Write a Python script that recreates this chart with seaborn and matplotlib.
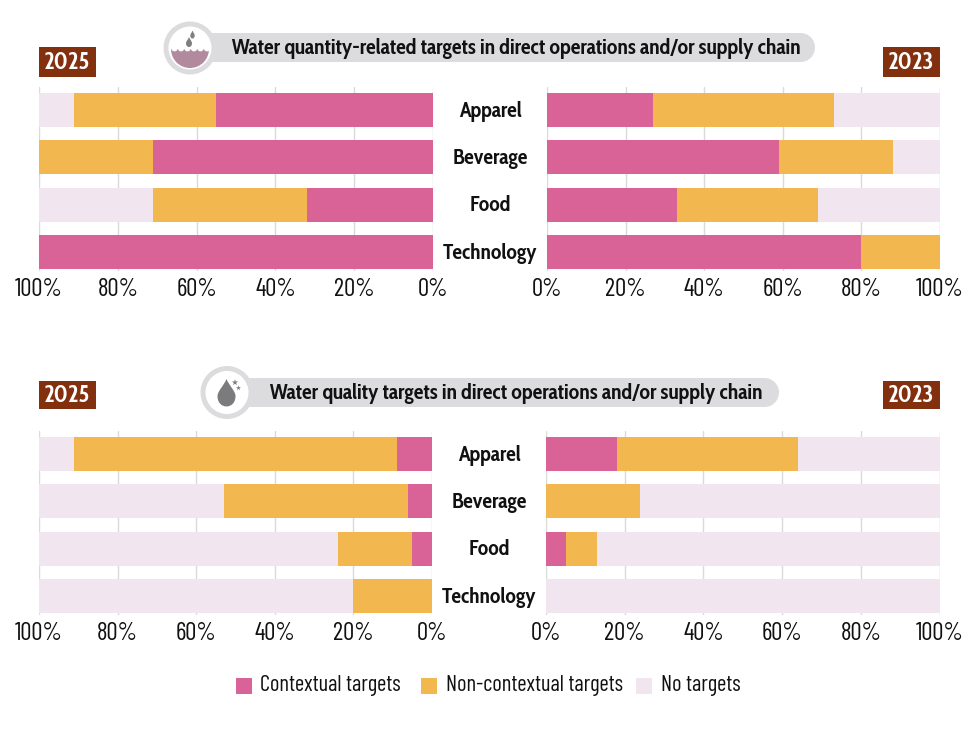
import matplotlib
matplotlib.use("Agg")
import matplotlib.pyplot as plt
import numpy as np
import seaborn as sns
from matplotlib.patches import Circle, PathPatch, Rectangle, Wedge
from matplotlib.path import Path
from matplotlib.transforms import ScaledTranslation

sns.set_theme(style="white")
plt.rcParams["font.family"] = ["Cabin Condensed", "Barlow Condensed", "Asap Condensed", "Liberation Sans", "DejaVu Sans"]
LIGHT_FONT = ["Barlow Condensed", "Cabin Condensed", "Asap Condensed", "Liberation Sans", "DejaVu Sans"]

categories = ["Apparel", "Beverage", "Food", "Technology"]
series_names = ["Contextual targets", "Non-contextual targets", "No targets"]
pct_ticks = [0, 20, 40, 60, 80, 100]

quantity_2025_contextual = [55, 71, 32, 100]
quantity_2025_noncontextual = [36, 29, 39, 0]
quantity_2025_none = [9, 0, 29, 0]

quantity_2023_contextual = [27, 59, 33, 80]
quantity_2023_noncontextual = [46, 29, 36, 20]
quantity_2023_none = [27, 12, 31, 0]

quality_2025_contextual = [9, 6, 5, 0]
quality_2025_noncontextual = [82, 47, 19, 20]
quality_2025_none = [9, 47, 76, 80]

quality_2023_contextual = [18, 0, 5, 0]
quality_2023_noncontextual = [46, 24, 8, 0]
quality_2023_none = [36, 76, 87, 100]

title_quantity = "Water quantity-related targets in direct operations and/or supply chain"
title_quality = "Water quality targets in direct operations and/or supply chain"

PINK, ORANGE, PALE = "#D96397", "#F2B84F", "#F1E6F0"
BROWN, PILL, GRID = "#83300F", "#DCDCDE", "#DADADA"
W, H = 980, 735

fig = plt.figure(figsize=(W / 100, H / 100), dpi=100)
fig.patch.set_facecolor("white")


def make_ax(x0, x1, y0, y1):
    return fig.add_axes([x0 / W, 1 - y1 / H, (x1 - x0) / W, (y1 - y0) / H])


def stacked(ax, contextual, noncontextual, none, mirrored, show_cats):
    c = np.array(contextual, float)
    n = np.array(noncontextual, float)
    e = np.array(none, float)
    layers = [(c + n + e, PALE), (c + n, ORANGE), (c, PINK)]
    for values, color in layers:
        sns.barplot(x=values, y=categories, color=color, saturation=1, width=0.72,
                    orient="h", ax=ax, zorder=2, linewidth=0)
    ax.set_xlim(100, 0) if mirrored else ax.set_xlim(0, 100)
    ax.set_ylim(3.40, -0.486)
    ax.set_xticks(pct_ticks)
    ax.set_xticklabels([f"{t}%" for t in pct_ticks], fontsize=18, color="#111111", family=LIGHT_FONT)
    ax.set_xlabel("")
    ax.set_ylabel("")
    ax.grid(axis="x", color=GRID, linewidth=1)
    ax.grid(axis="y", visible=False)
    ax.set_axisbelow(True)
    ax.tick_params(axis="x", length=0, pad=5)
    for s in ax.spines.values():
        s.set_visible(False)
    if show_cats:
        ax.tick_params(axis="y", length=0, pad=41)
        ax.set_yticks(range(len(categories)))
        ax.set_yticklabels(categories, fontsize=15.5, fontweight="bold", ha="center", color="#111111")
        lift = ScaledTranslation(0, 1.5 / 100, fig.dpi_scale_trans)
        for t in ax.get_yticklabels():
            t.set_va("center_baseline")
            t.set_transform(t.get_transform() + lift)
    else:
        ax.set_yticks([])


ax1 = make_ax(39, 433, 87, 271)
ax2 = make_ax(547, 940, 87, 271)
ax3 = make_ax(39, 432, 431, 615)
ax4 = make_ax(546, 939.5, 431, 615)
stacked(ax1, quantity_2025_contextual, quantity_2025_noncontextual, quantity_2025_none, True, False)
stacked(ax2, quantity_2023_contextual, quantity_2023_noncontextual, quantity_2023_none, False, True)
stacked(ax3, quality_2025_contextual, quality_2025_noncontextual, quality_2025_none, True, False)
stacked(ax4, quality_2023_contextual, quality_2023_noncontextual, quality_2023_none, False, True)

# overlay in pixel coordinates for banners and badges
ov = fig.add_axes([0, 0, 1, 1], zorder=5)
ov.set_xlim(0, W)
ov.set_ylim(H, 0)
ov.axis("off")


def drop(cx, top, bottom, half, color):
    tall = bottom - top
    mid = top + tall * 0.62
    low = bottom + (bottom - mid) / 3
    verts = [(cx, top), (cx + half * 0.25, top + tall * 0.22), (cx + half, mid - tall * 0.18), (cx + half, mid),
             (cx + half, low), (cx - half, low), (cx - half, mid),
             (cx - half, mid - tall * 0.18), (cx - half * 0.25, top + tall * 0.22), (cx, top)]
    codes = [Path.MOVETO] + [Path.CURVE4] * 9
    ov.add_patch(PathPatch(Path(verts, codes), facecolor=color, edgecolor="none", zorder=10))


def banner(cx, cy, x_right, y0, y1, title, text_x):
    h = y1 - y0
    ov.add_patch(Rectangle((cx, y0), x_right - cx - h / 2, h, facecolor=PILL, edgecolor="none", zorder=5))
    ov.add_patch(Circle((x_right - h / 2, (y0 + y1) / 2), h / 2, facecolor=PILL, edgecolor="none", zorder=5))
    ov.add_patch(Circle((cx, cy), 26.5, facecolor=PILL, edgecolor="none", zorder=6))
    ov.add_patch(Circle((cx, cy), 21.5, facecolor="white", edgecolor="none", zorder=7))
    ov.text(text_x, (y0 + y1) / 2 + 0.5, title, ha="center", va="center", fontsize=15.6,
            fontweight="bold", color="#111111", zorder=11)


banner(190, 48, 815, 33, 62, title_quantity, 516)
banner(227, 392.5, 779, 378, 407, title_quality, 516)

# quantity icon: two drops over a pool of water
drop(192.5, 30.5, 38.5, 2.2, "#7F7F81")
drop(189, 37, 47, 3.0, "#7F7F81")
ov.add_patch(Wedge((190, 49), 19, 0, 180, facecolor="#B28A9E", edgecolor="none", zorder=8))
for wx in (174.5, 181, 187.5, 194, 200.5, 207):
    ov.add_patch(Circle((wx, 48.2), 3.2, facecolor="white", edgecolor="none", zorder=9))

# quality icon: one drop with sparkles
drop(226.5, 379, 406.5, 9, "#7B7B7D")
ov.scatter([235, 238.5], [382.5, 388], marker="*", s=[22, 14], color="#7B7B7D", linewidths=0, zorder=11)

# year badges
for x0, y0, h, label in [(39, 47, 30, "2025"), (883, 47, 30, "2023"),
                         (39, 381, 28, "2025"), (883, 381, 28, "2023")]:
    ov.add_patch(Rectangle((x0, y0), 57, h, facecolor=BROWN, edgecolor="none", zorder=6))
    ov.text(x0 + 28.5, y0 + h / 2 + 0.5, label, ha="center", va="center", fontsize=17,
            fontweight="bold", color="white", zorder=7)

# legend
for x, name, color in zip([235.5, 421, 636], series_names, [PINK, ORANGE, PALE]):
    ov.add_patch(Rectangle((x, 678), 16, 16, facecolor=color, edgecolor="none", zorder=6))
    ov.text(x + 24.5, 685.5, name, ha="left", va="center", fontsize=16.2, color="#111111",
            family=LIGHT_FONT, zorder=7)

fig.savefig("out.png", dpi=100)
